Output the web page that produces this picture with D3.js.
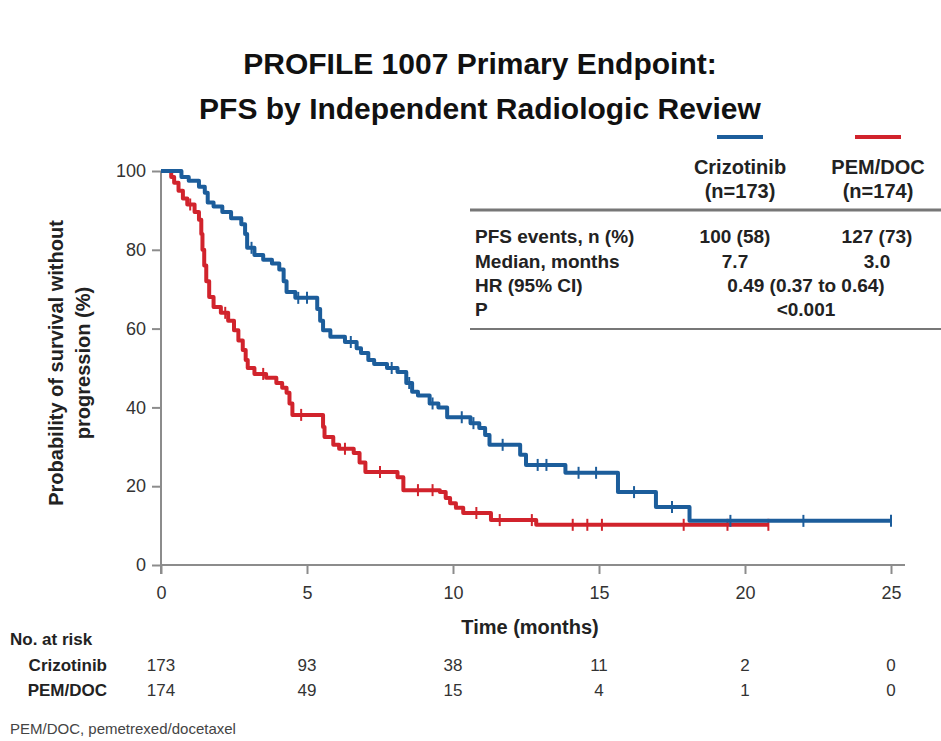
<!DOCTYPE html>
<html>
<head>
<meta charset="utf-8">
<script src="https://cdn.jsdelivr.net/npm/d3@7"></script>
<style>
  body { margin: 0; background: #fff; }
  svg { display: block; font-family: "Liberation Sans", Arial, sans-serif; }
</style>
</head>
<body>
<svg id="chart" width="941" height="741"></svg>
<script>
// ---- data ----
const monthTicks = [0, 5, 10, 15, 20, 25]
const pctTicks = [0, 20, 40, 60, 80, 100]

const armNames = ["Crizotinib", "PEM/DOC"]
const armN = ["(n=173)", "(n=174)"]

const crizAtRisk = [173, 93, 38, 11, 2, 0]
const pemAtRisk = [174, 49, 15, 4, 1, 0]

// KM steps: [time (months), % without progression], step-after
const crizKM = [
  [0, 100], [0.7, 98.5], [0.95, 97.5], [1.3, 96], [1.5, 94.5], [1.6, 92], [1.8, 91],
  [2.1, 89.6], [2.4, 88], [2.75, 86.5], [2.88, 84], [2.95, 80.5], [3.2, 78.7],
  [3.5, 77.5], [3.8, 76.5], [4.05, 75], [4.2, 72], [4.3, 69.3], [4.6, 67.8],
  [5.35, 65], [5.45, 62], [5.55, 59.6], [5.8, 57.9], [6.3, 56.6], [6.7, 55],
  [6.85, 53.8], [7.1, 52], [7.3, 51], [7.74, 50], [8.1, 49], [8.4, 46.2],
  [8.6, 44], [8.8, 43], [9.2, 41], [9.5, 40], [9.8, 37.5], [10.6, 36],
  [10.9, 34.8], [11.1, 33], [11.25, 30.5], [12.3, 28], [12.5, 25.4],
  [13.85, 23.4], [15.65, 18.5], [16.95, 14.7], [18.1, 11.2]
]
const crizEnd = 25
const crizCensor = [3.1, 4.7, 5.0, 6.5, 7.9, 8.5, 9.3, 10.3, 10.7, 11.7, 12.9, 13.2, 14.3, 14.9, 16.2, 17.5, 19.5, 22, 25]

const pemKM = [
  [0, 100], [0.35, 98.5], [0.45, 97], [0.6, 95], [0.75, 93], [0.9, 91.5], [1.15, 89.6],
  [1.3, 87.6], [1.38, 84], [1.42, 80], [1.48, 76], [1.55, 72], [1.65, 68], [1.8, 65.5],
  [2.05, 64], [2.3, 62], [2.5, 59.6], [2.65, 57], [2.8, 54.6], [2.9, 52], [2.97, 50],
  [3.2, 48.5], [3.6, 47.5], [3.95, 46.2], [4.15, 45], [4.3, 43.7], [4.4, 41],
  [4.5, 38.1], [5.55, 35], [5.6, 32.5], [5.9, 30.5], [6.1, 29.5], [6.6, 28.4],
  [6.8, 26], [7.0, 23.6], [8.1, 22.3], [8.3, 19], [9.55, 18.5], [9.75, 17],
  [9.9, 15.7], [10.1, 14.5], [10.35, 13.2], [11.3, 11.4], [12.85, 10.2]
]
const pemEnd = 20.8
const pemCensor = [1.0, 2.2, 3.5, 4.8, 6.3, 7.5, 8.8, 9.3, 10.8, 11.6, 12.7, 14.1, 14.6, 15.1, 17.9, 19.4, 20.8]

const statRows = ["PFS events, n (%)", "Median, months", "HR (95% CI)", "P"]
const crizStats = ["100 (58)", "7.7"]
const pemStats = ["127 (73)", "3.0"]
const sharedStats = [null, null, "0.49 (0.37 to 0.64)", "<0.001"]

const blue = "#1c5d9b"
const red = "#d1232c"
const axisGrey = "#8c8c8c"
const textCol = "#222"

// ---- setup ----
const svg = d3.select("#chart")

const x = d3.scaleLinear().domain([0, 25]).range([161, 891])
const y = d3.scaleLinear().domain([0, 100]).range([565, 171])

function addText(sel, px, py, str, size, weight, anchor, fill) {
  return sel.append("text")
    .attr("x", px).attr("y", py)
    .attr("dy", "0.35em")
    .attr("font-size", size)
    .attr("font-weight", weight || "normal")
    .attr("text-anchor", anchor || "start")
    .attr("fill", fill || textCol)
    .text(str)
}

// title
addText(svg, 480, 63, "PROFILE 1007 Primary Endpoint:", 30, "bold", "middle", "#111")
addText(svg, 480, 108, "PFS by Independent Radiologic Review", 30, "bold", "middle", "#111")

// axes
const xAxis = svg.append("g")
  .attr("transform", "translate(0," + y(0) + ")")
  .call(d3.axisBottom(x).tickValues(monthTicks).tickSize(9).tickPadding(12))
const yAxis = svg.append("g")
  .attr("transform", "translate(" + x(0) + ",0)")
  .call(d3.axisLeft(y).tickValues(pctTicks).tickSize(9).tickPadding(6))

;[xAxis, yAxis].forEach(a => {
  a.select(".domain").remove()
  a.selectAll(".tick line").attr("stroke", axisGrey).attr("stroke-width", 2)
  a.selectAll(".tick text")
    .attr("font-size", 18)
    .attr("font-family", "Liberation Sans, Arial, sans-serif")
    .attr("fill", "#333")
})

svg.append("line")
  .attr("x1", x(0)).attr("x2", x(25) + 14)
  .attr("y1", y(0)).attr("y2", y(0))
  .attr("stroke", axisGrey).attr("stroke-width", 2)
svg.append("line")
  .attr("x1", x(0)).attr("x2", x(0))
  .attr("y1", y(100)).attr("y2", y(0) + 9)
  .attr("stroke", axisGrey).attr("stroke-width", 2)

// axis titles
const yLab = svg.append("g").attr("transform", "translate(56,363) rotate(-90)")
addText(yLab, 0, 0, "Probability of survival without", 20, "bold", "middle")
addText(yLab, 0, 27, "progression (%)", 20, "bold", "middle")

addText(svg, 530, 627, "Time (months)", 20, "bold", "middle")

// ---- KM curves ----
const line = d3.line()
  .x(d => x(d[0]))
  .y(d => y(d[1]))
  .curve(d3.curveStepAfter)

function survAt(km, t) {
  let s = km[0][1]
  km.forEach(d => { if (d[0] <= t) s = d[1] })
  return s
}

function drawArm(km, end, censor, color) {
  const pts = km.concat([[end, km[km.length - 1][1]]])
  svg.append("path")
    .datum(pts)
    .attr("d", line)
    .attr("fill", "none")
    .attr("stroke", color)
    .attr("stroke-width", 4)
    .attr("stroke-linejoin", "round")

  svg.append("g").selectAll("line")
    .data(censor)
    .enter()
    .append("line")
      .attr("x1", d => x(d)).attr("x2", d => x(d))
      .attr("y1", d => y(survAt(km, d)) - 6)
      .attr("y2", d => y(survAt(km, d)) + 6)
      .attr("stroke", color)
      .attr("stroke-width", 2)
}

drawArm(pemKM, pemEnd, pemCensor, red)
drawArm(crizKM, crizEnd, crizCensor, blue)

// ---- legend / stats table ----
const colX = [740, 878]
const legendColors = [blue, red]
colX.forEach((cx, i) => {
  svg.append("line")
    .attr("x1", cx - 23).attr("x2", cx + 23)
    .attr("y1", 137).attr("y2", 137)
    .attr("stroke", legendColors[i]).attr("stroke-width", 4)
  addText(svg, cx, 167, armNames[i], 20, "bold", "middle")
  addText(svg, cx, 191, armN[i], 20, "bold", "middle")
})

svg.append("line")
  .attr("x1", 470).attr("x2", 941).attr("y1", 210).attr("y2", 210)
  .attr("stroke", "#777").attr("stroke-width", 3)
svg.append("line")
  .attr("x1", 470).attr("x2", 941).attr("y1", 329).attr("y2", 329)
  .attr("stroke", "#777").attr("stroke-width", 2)

const rowY = [236, 261, 285, 309]
statRows.forEach((r, i) => {
  addText(svg, 475, rowY[i], r, 19, "bold", "start")
  if (crizStats[i]) addText(svg, 735, rowY[i], crizStats[i], 19, "bold", "middle")
  if (pemStats[i]) addText(svg, 877, rowY[i], pemStats[i], 19, "bold", "middle")
  if (sharedStats[i]) addText(svg, 806, rowY[i], sharedStats[i], 19, "bold", "middle")
})

// ---- number at risk ----
addText(svg, 10, 639, "No. at risk", 17, "bold", "start")
const riskRows = [crizAtRisk, pemAtRisk]
const riskY = [665, 690]
riskRows.forEach((row, i) => {
  addText(svg, 107, riskY[i], armNames[i], 17, "bold", "end")
  row.forEach((n, j) => {
    addText(svg, x(monthTicks[j]), riskY[i], n, 17, "normal", "middle", "#333")
  })
})

addText(svg, 10, 729, "PEM/DOC, pemetrexed/docetaxel", 15, "normal", "start", "#444")
</script>
</body>
</html>
